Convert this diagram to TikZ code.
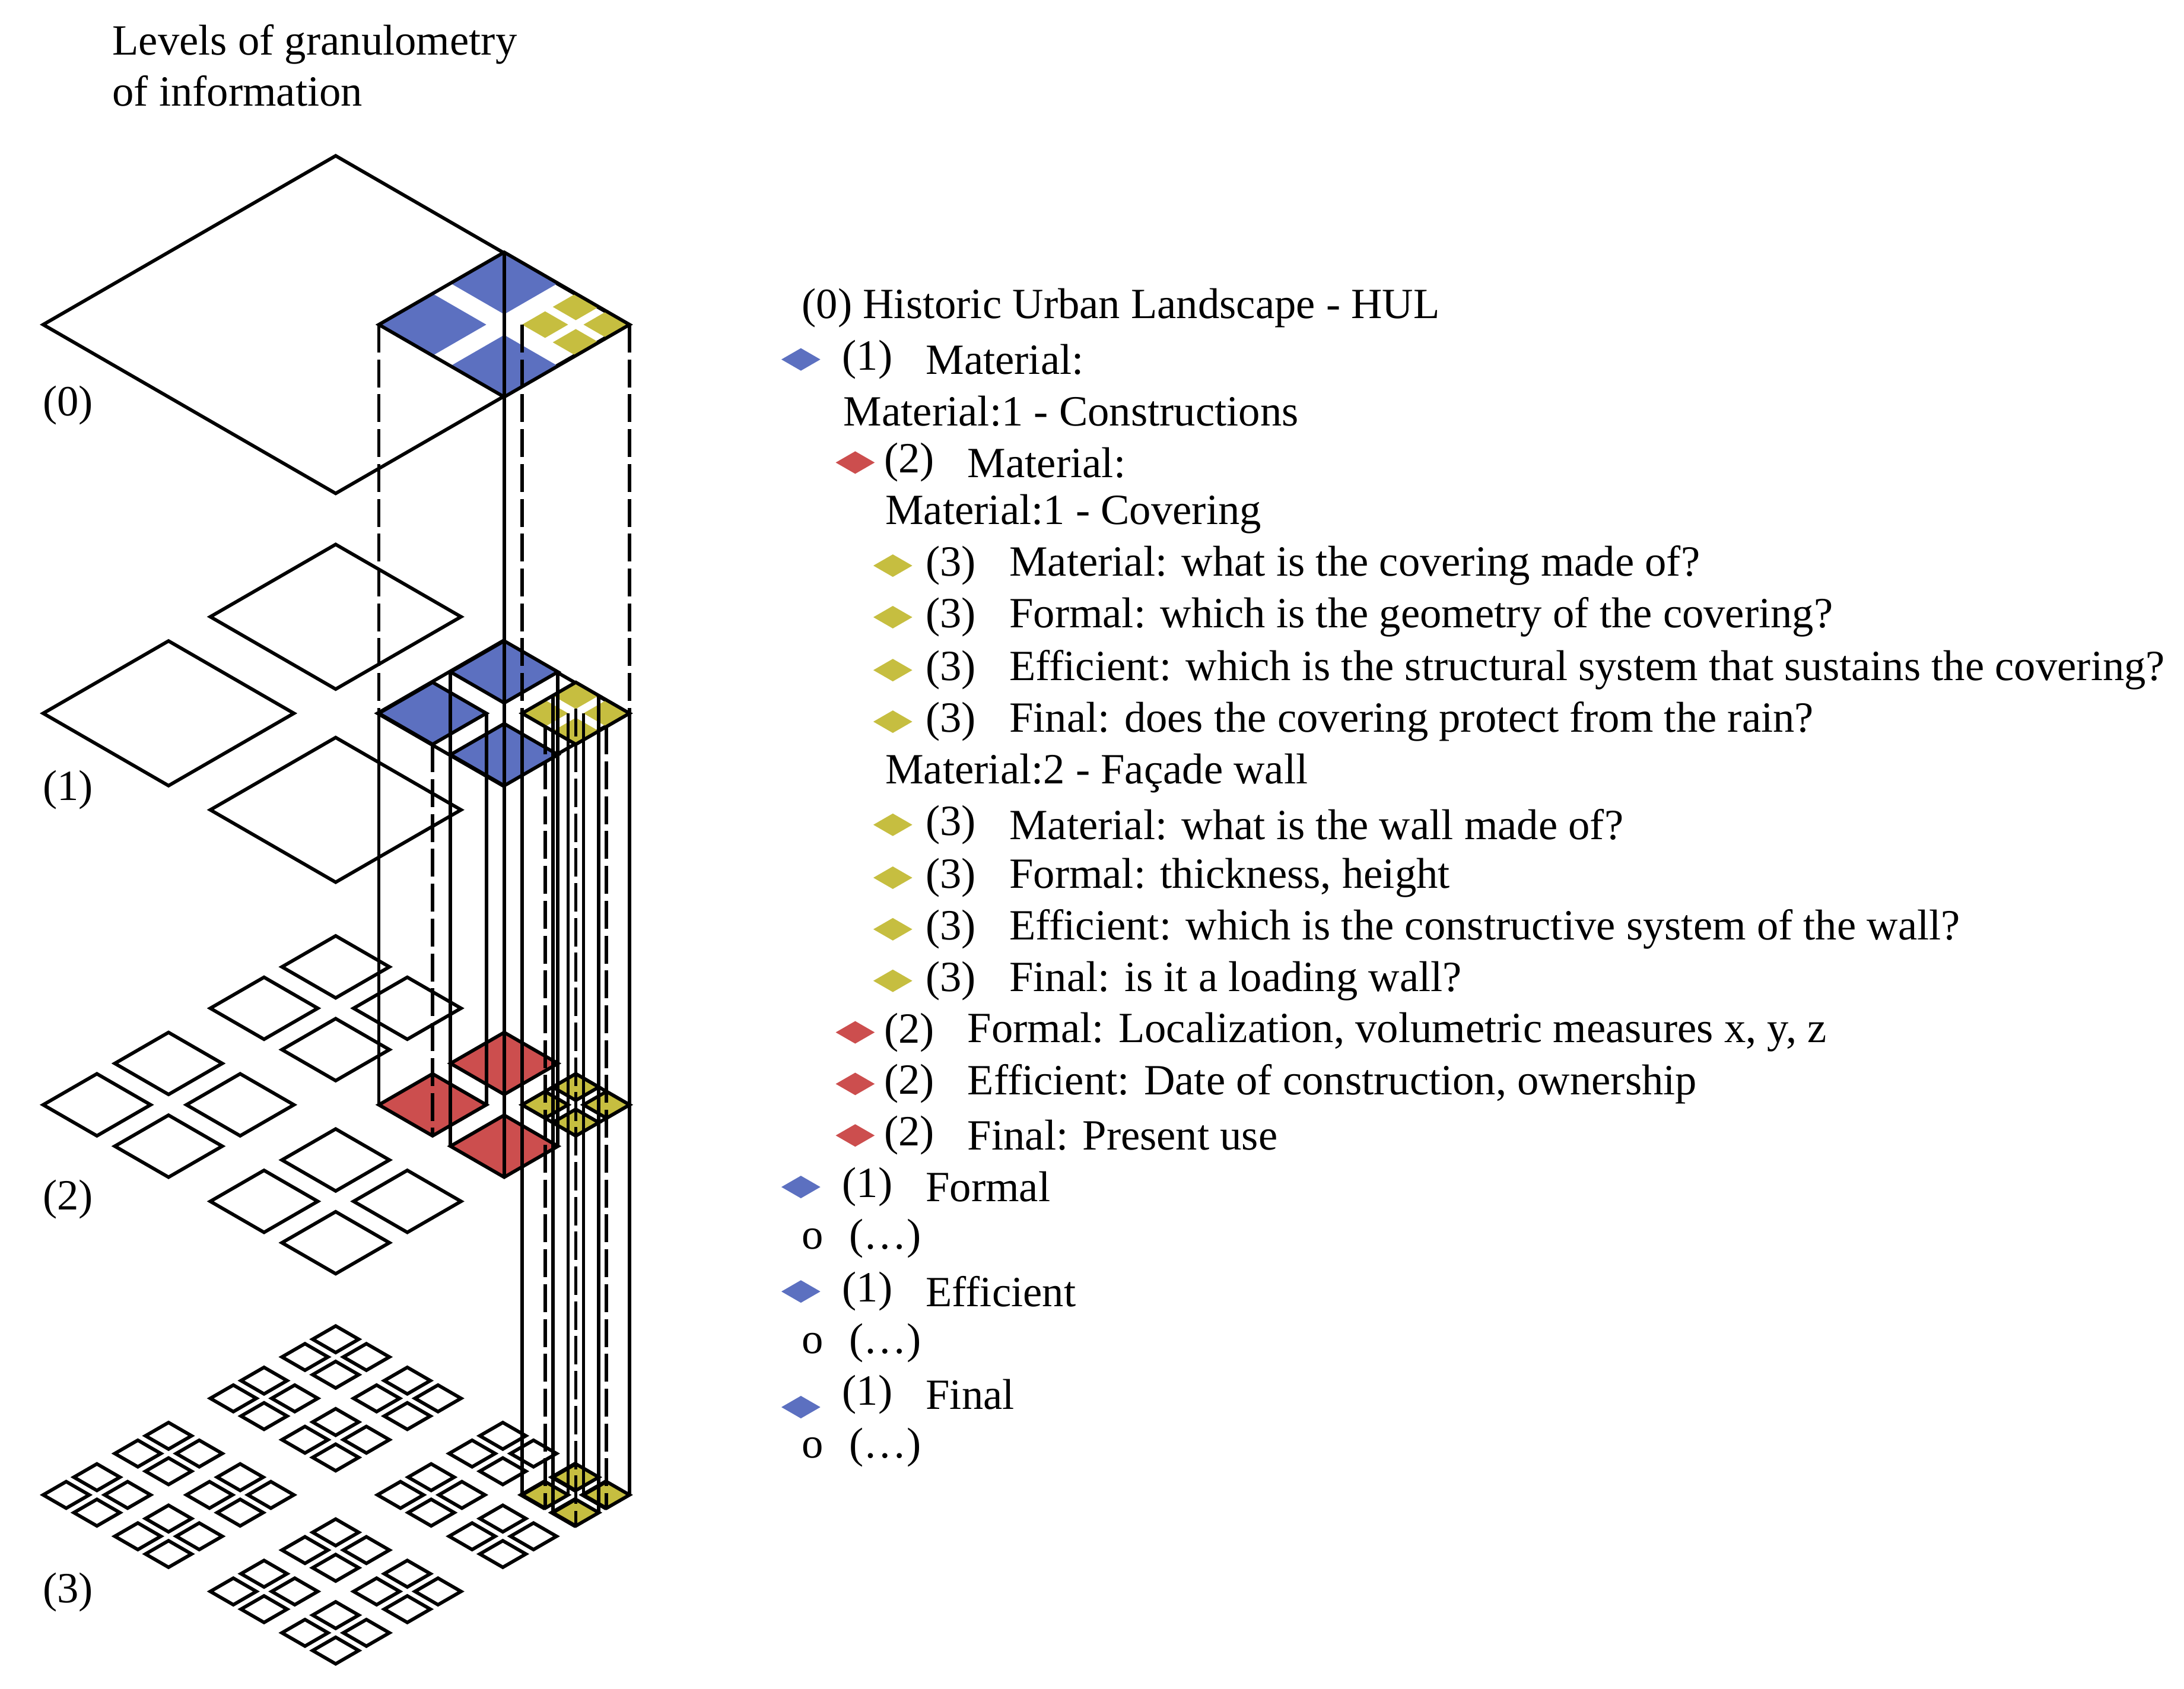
\documentclass[tikz,border=0pt]{standalone}
\usepackage{fontspec}
\setmainfont{Liberation Serif}
\usepackage{tikz}
\definecolor{hulblue}{RGB}{92,112,192}
\definecolor{hulred}{RGB}{204,78,78}
\definecolor{hulyellow}{RGB}{198,190,64}
\newcommand\rhomb[4][]{\path[#1] ({#2-#4},{#3}) -- ({#2},{#3-0.577*#4}) -- ({#2+#4},{#3}) -- ({#2},{#3+0.577*#4}) -- cycle;}
\tikzset{
  cell/.style={draw=black,line width=0.7pt,line join=miter},
  blu/.style={fill=hulblue},
  rd/.style={fill=hulred},
  yel/.style={fill=hulyellow},
  hid/.style={line width=0.7pt,dash pattern=on 0.2cm off 0.05cm},
  vis/.style={line width=0.7pt},
  txt/.style={anchor=west,inner sep=0pt,font=\fontsize{8.8}{10.5}\selectfont}
}
\begin{document}
\begin{tikzpicture}[x=0.01cm,y=-0.01cm]
\useasboundingbox (0,0) rectangle (1568,1212);

% level 0
\rhomb[cell]{241}{233}{210}
\foreach \bx/\by in {0/-1,-1/0,0/1} {\rhomb[blu]{362+(\bx)*51.43}{233+(\by)*29.7}{38.57}}
\foreach \cx/\cy in {0/-1,-1/0,0/1,1/0} {\rhomb[yel]{413.4+(\cx)*22.04}{233+(\cy)*12.72}{16.53}}
\rhomb[cell]{362}{233}{90}

% level 1
\foreach \ax/\ay in {0/-1,-1/0,0/1,1/0} {\rhomb[cell]{241+(\ax)*120}{512+(\ay)*69.3}{90}}
\foreach \bx/\by in {0/-1,-1/0,0/1} {\rhomb[cell,blu]{362+(\bx)*51.43}{512+(\by)*29.7}{38.57}}
\foreach \cx/\cy in {0/-1,-1/0,0/1,1/0} {\rhomb[yel]{413.4+(\cx)*22.04}{512+(\cy)*12.72}{16.53}}
\rhomb[cell]{413.4}{512}{38.57}

% level 2
\foreach \ax/\ay in {0/-1,-1/0,0/1}
  \foreach \bx/\by in {0/-1,-1/0,0/1,1/0}
    {\rhomb[cell]{241+(\ax)*120+(\bx)*51.43}{793+(\ay)*69.3+(\by)*29.7}{38.57}}
\foreach \bx/\by in {0/-1,-1/0,0/1} {\rhomb[cell,rd]{362+(\bx)*51.43}{793+(\by)*29.7}{38.57}}
\rhomb[cell]{413.4}{793}{38.57}
\foreach \cx/\cy in {0/-1,-1/0,0/1,1/0} {\rhomb[cell,yel]{413.4+(\cx)*22.04}{793+(\cy)*12.72}{16.53}}

% level 3
\foreach \ax/\ay in {0/-1,-1/0,0/1,1/0}
  \foreach \bx/\by in {0/-1,-1/0,0/1,1/0}
    \foreach \cx/\cy in {0/-1,-1/0,0/1,1/0}
      {\rhomb[cell]{241+(\ax)*120+(\bx)*51.43+(\cx)*22.04}{1073+(\ay)*69.3+(\by)*29.7+(\cy)*12.72}{16.53}}
\foreach \cx/\cy in {0/-1,-1/0,0/1,1/0} {\rhomb[cell,yel]{413.4+(\cx)*22.04}{1073+(\cy)*12.72}{16.53}}

% verticals
\draw[hid] (272,233) -- (272,793);
\draw[hid] (452,233) -- (452,1073);
\draw[hid] (374.8,233) -- (374.8,1073);
\draw[vis] (362,181) -- (362,845);
\foreach \bx/\by in {0/-1,-1/0,0/1,1/0} {
  \draw[vis] ({362+(\bx)*51.43-38.57},{512+(\by)*29.7}) -- ({362+(\bx)*51.43-38.57},{793+(\by)*29.7});
  \draw[vis] ({362+(\bx)*51.43+38.57},{512+(\by)*29.7}) -- ({362+(\bx)*51.43+38.57},{793+(\by)*29.7});
  \draw[hid] ({362+(\bx)*51.43},{512+(\by)*29.7+22.3}) -- ({362+(\bx)*51.43},{793+(\by)*29.7+22.3});
}
\foreach \cx/\cy in {0/-1,-1/0,0/1,1/0} {
  \draw[vis] ({413.4+(\cx)*22.04-16.53},{512+(\cy)*12.72}) -- ({413.4+(\cx)*22.04-16.53},{1073+(\cy)*12.72});
  \draw[vis] ({413.4+(\cx)*22.04+16.53},{512+(\cy)*12.72}) -- ({413.4+(\cx)*22.04+16.53},{1073+(\cy)*12.72});
  \draw[hid] ({413.4+(\cx)*22.04},{512+(\cy)*12.72+9.5}) -- ({413.4+(\cx)*22.04},{1073+(\cy)*12.72+9.5});
}

% level labels
\node[txt,align=left] (title) at (80,47) {Levels of granulometry\\of information};
\node[txt] (l0) at (30,291) {(0)};
\node[txt] (l1) at (30,567) {(1)};
\node[txt] (l2) at (30,861) {(2)};
\node[txt] (l3) at (30,1143) {(3)};

% list
\node[txt] (hul) at (575,221) {(0) Historic Urban Landscape - HUL};
\rhomb[blu]{575}{258}{14}
\node[txt] (m1n) at (604,258) {(1)};
\node[txt] (m1) at (664,258) {Material:};
\node[txt] (c1) at (605,295) {Material:1 - Constructions};
\rhomb[rd]{614}{332}{14}
\node[txt] (m2n) at (634,332) {(2)};
\node[txt] (m2) at (694,332) {Material:};
\node[txt] (cov) at (635,369) {Material:1 - Covering};
\rhomb[yel]{641}{406}{14}
\node[txt] (a1n) at (664,406) {(3)};
\node[txt] (a1) at (724,406) {Material: what is the covering made of?};
\rhomb[yel]{641}{443}{14}
\node[txt] (a2n) at (664,443) {(3)};
\node[txt] (a2) at (724,443) {Formal: which is the geometry of the covering?};
\rhomb[yel]{641}{481}{14}
\node[txt] (a3n) at (664,481) {(3)};
\node[txt] (a3) at (724,481) {Efficient: which is the structural system that sustains the covering?};
\rhomb[yel]{641}{518}{14}
\node[txt] (a4n) at (664,518) {(3)};
\node[txt] (a4) at (724,518) {Final: does the covering protect from the rain?};
\node[txt] (fw) at (635,555) {Material:2 - Façade wall};
\rhomb[yel]{641}{592}{14}
\node[txt] (b1n) at (664,592) {(3)};
\node[txt] (b1) at (724,592) {Material: what is the wall made of?};
\rhomb[yel]{641}{630}{14}
\node[txt] (b2n) at (664,630) {(3)};
\node[txt] (b2) at (724,630) {Formal: thickness, height};
\rhomb[yel]{641}{667}{14}
\node[txt] (b3n) at (664,667) {(3)};
\node[txt] (b3) at (724,667) {Efficient: which is the constructive system of the wall?};
\rhomb[yel]{641}{704}{14}
\node[txt] (b4n) at (664,704) {(3)};
\node[txt] (b4) at (724,704) {Final: is it a loading wall?};
\rhomb[rd]{614}{741}{14}
\node[txt] (f2n) at (634,741) {(2)};
\node[txt] (f2) at (694,741) {Formal: Localization, volumetric measures x, y, z};
\rhomb[rd]{614}{778}{14}
\node[txt] (e2n) at (634,778) {(2)};
\node[txt] (e2) at (694,778) {Efficient: Date of construction, ownership};
\rhomb[rd]{614}{815}{14}
\node[txt] (p2n) at (634,815) {(2)};
\node[txt] (p2) at (694,815) {Final: Present use};
\rhomb[blu]{575}{852}{14}
\node[txt] (f1n) at (604,852) {(1)};
\node[txt] (f1) at (664,852) {Formal};
\node[txt] (o1) at (575,889) {o\hspace{0.6em}(…)};
\rhomb[blu]{575}{927}{14}
\node[txt] (e1n) at (604,927) {(1)};
\node[txt] (e1) at (664,927) {Efficient};
\node[txt] (o2) at (575,964) {o\hspace{0.6em}(…)};
\rhomb[blu]{575}{1010}{14}
\node[txt] (p1n) at (604,1001) {(1)};
\node[txt] (p1) at (664,1001) {Final};
\node[txt] (o3) at (575,1039) {o\hspace{0.6em}(…)};
\end{tikzpicture}
\end{document}
